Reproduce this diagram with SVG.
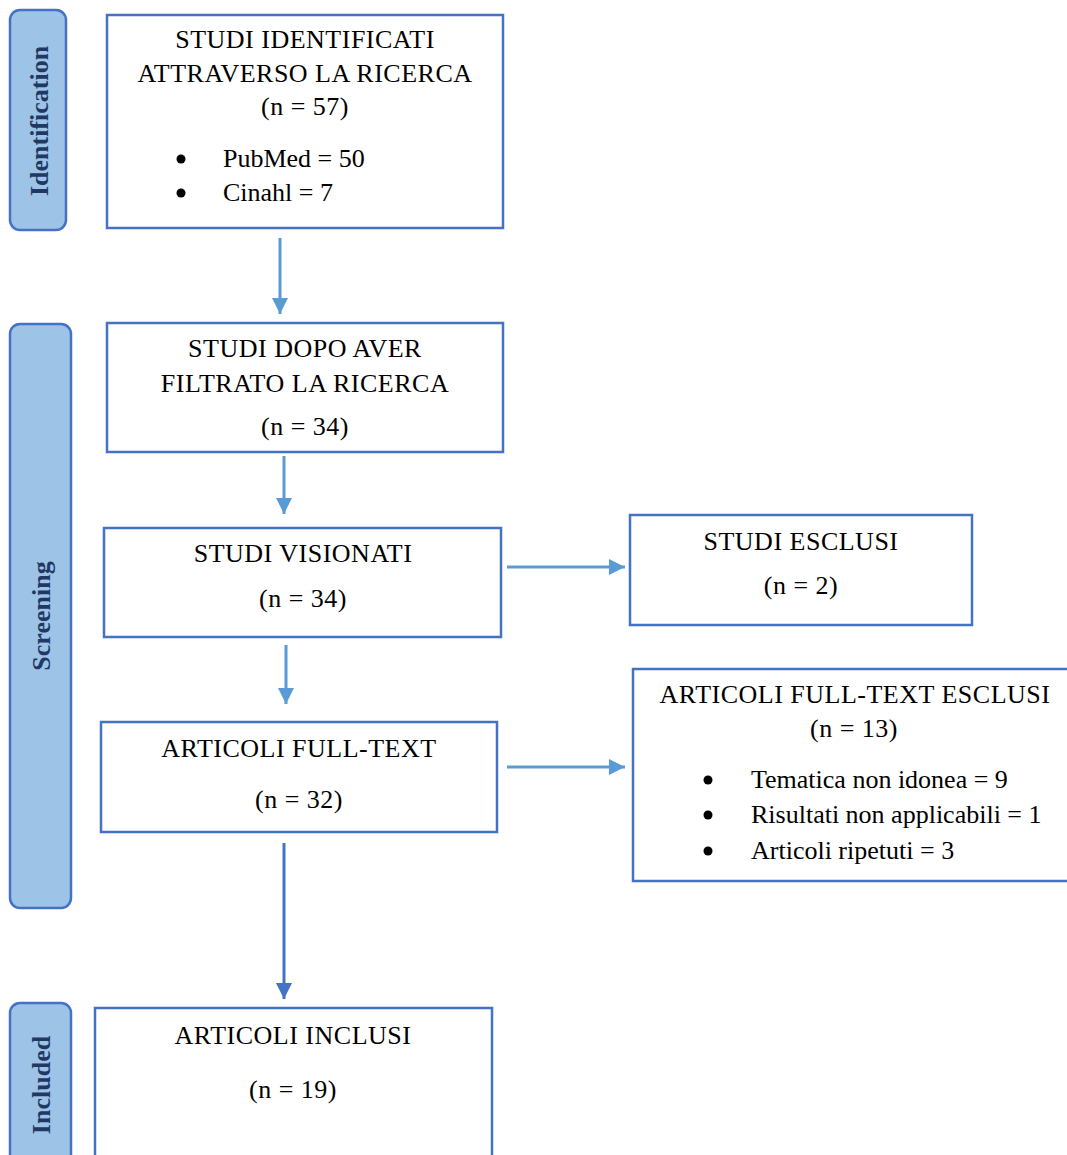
<svg xmlns="http://www.w3.org/2000/svg" width="1067" height="1155" viewBox="0 0 1067 1155">
<style>
.box{fill:#fff;stroke:#4472C4;stroke-width:2.5}
.tab{fill:#9DC3E6;stroke:#4472C4;stroke-width:2.5}
.t{font-family:"Liberation Serif","Times New Roman",serif;font-size:26px;fill:#000}
.c{text-anchor:middle;letter-spacing:0.5px}
.tl{font-family:"Liberation Serif","Times New Roman",serif;font-size:26px;font-weight:bold;fill:#1F3864;text-anchor:middle}
.ln{stroke:#5B9BD5;stroke-width:3;fill:none}
.ln2{stroke:#4472C4;stroke-width:3;fill:none}
</style>
<defs>
<marker id="ah" markerUnits="userSpaceOnUse" markerWidth="16" markerHeight="16" refX="16" refY="8" orient="auto"><path d="M0,0 L16,8 L0,16 Z" fill="#5B9BD5"/></marker>
<marker id="ah2" markerUnits="userSpaceOnUse" markerWidth="16" markerHeight="16" refX="16" refY="8" orient="auto"><path d="M0,0 L16,8 L0,16 Z" fill="#4472C4"/></marker>
</defs>
<rect width="1067" height="1155" fill="#fff"/>
<g id="tab-identification"><rect class="tab" x="10" y="10" width="56" height="220" rx="10"/><text class="tl" transform="translate(48,121) rotate(-90)">Identification</text></g>
<g id="tab-screening"><rect class="tab" x="10" y="324" width="61" height="584" rx="10"/><text class="tl" transform="translate(50,616) rotate(-90)">Screening</text></g>
<g id="tab-included"><rect class="tab" x="10" y="1003" width="61" height="170" rx="10"/><text class="tl" transform="translate(50,1085) rotate(-90)">Included</text></g>
<g id="connectors">
<line class="ln" x1="280" y1="238" x2="280" y2="314" marker-end="url(#ah)"/>
<line class="ln" x1="284" y1="456" x2="284" y2="514" marker-end="url(#ah)"/>
<line class="ln" x1="286" y1="645" x2="286" y2="704" marker-end="url(#ah)"/>
<line class="ln2" x1="284" y1="843" x2="284" y2="999" marker-end="url(#ah2)"/>
<line class="ln" x1="507" y1="567" x2="625" y2="567" marker-end="url(#ah)"/>
<line class="ln" x1="507" y1="767" x2="625" y2="767" marker-end="url(#ah)"/>
</g>
<g id="n-identificati"><rect class="box" x="107" y="15" width="396" height="213"/>
<text class="t c" x="305" y="48">STUDI IDENTIFICATI</text>
<text class="t c" x="305" y="82">ATTRAVERSO LA RICERCA</text>
<text class="t c" x="305" y="115">(n = 57)</text>
<circle cx="181" cy="159" r="4.5"/><text class="t" x="223" y="167">PubMed = 50</text>
<circle cx="181" cy="193" r="4.5"/><text class="t" x="223" y="201">Cinahl = 7</text></g>
<g id="n-filtrato"><rect class="box" x="107" y="323" width="396" height="129"/>
<text class="t c" x="305" y="357">STUDI DOPO AVER</text>
<text class="t c" x="305" y="392">FILTRATO LA RICERCA</text>
<text class="t c" x="305" y="435">(n = 34)</text></g>
<g id="n-visionati"><rect class="box" x="104" y="528" width="397" height="109"/>
<text class="t c" x="303" y="562">STUDI VISIONATI</text>
<text class="t c" x="303" y="607">(n = 34)</text></g>
<g id="n-esclusi"><rect class="box" x="630" y="515" width="342" height="110"/>
<text class="t c" x="801" y="550">STUDI ESCLUSI</text>
<text class="t c" x="801" y="594">(n = 2)</text></g>
<g id="n-fulltext"><rect class="box" x="101" y="722" width="396" height="110"/>
<text class="t c" x="299" y="757">ARTICOLI FULL-TEXT</text>
<text class="t c" x="299" y="808">(n = 32)</text></g>
<g id="n-fulltext-esclusi"><rect class="box" x="633" y="669" width="460" height="212"/>
<text class="t c" x="855" y="703">ARTICOLI FULL-TEXT ESCLUSI</text>
<text class="t c" x="854" y="737">(n = 13)</text>
<circle cx="708" cy="780" r="4.5"/><text class="t" x="751" y="788">Tematica non idonea = 9</text>
<circle cx="708" cy="815" r="4.5"/><text class="t" x="751" y="823">Risultati non applicabili = 1</text>
<circle cx="708" cy="851" r="4.5"/><text class="t" x="751" y="859">Articoli ripetuti = 3</text></g>
<g id="n-inclusi"><rect class="box" x="95" y="1008" width="397" height="170"/>
<text class="t c" x="293" y="1044">ARTICOLI INCLUSI</text>
<text class="t c" x="293" y="1098">(n = 19)</text></g>
</svg>
